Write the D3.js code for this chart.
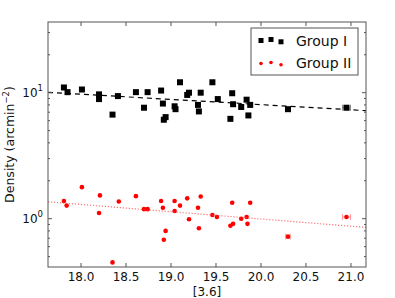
<!DOCTYPE html>
<html>
<head>
<meta charset="utf-8">
<script src="https://cdn.jsdelivr.net/npm/d3@7"></script>
<style>
  body { margin: 0; background: #fff; }
  text { font-family: "DejaVu Sans", sans-serif; fill: #111; }
</style>
</head>
<body>
<svg id="chart"></svg>
<script>
// values
const magOne = [17.81, 17.85, 18.01, 18.20, 18.20, 18.35, 18.41, 18.61, 18.70, 18.74, 18.89,
    18.91, 18.92, 18.94, 19.04, 19.05, 19.10, 19.18, 19.20, 19.30, 19.31, 19.33, 19.46,
    19.52, 19.66, 19.68, 19.69, 19.78, 19.84, 19.86, 19.88, 20.30, 20.95]
const densityOne = [11.0, 10.1, 10.6, 9.7, 8.9, 6.7, 9.4, 10.1, 7.6, 10.1, 10.4,
    8.2, 6.1, 6.4, 7.8, 7.4, 12.1, 9.6, 10.0, 8.0, 7.1, 10.0, 12.1,
    8.9, 6.2, 9.9, 8.1, 7.7, 8.8, 6.6, 8.0, 7.4, 7.6]

const magTwo = [17.81, 17.84, 18.01, 18.21, 18.20, 18.35, 18.42, 18.61, 18.70, 18.74, 18.89,
    18.91, 18.94, 18.92, 19.04, 19.04, 19.10, 19.18, 19.20, 19.33, 19.30, 19.31, 19.46,
    19.51, 19.68, 19.69, 19.66, 19.78, 19.84, 19.85, 19.88, 20.30, 20.95]
const densityTwo = [1.38, 1.27, 1.78, 1.53, 1.11, 0.45, 1.37, 1.51, 1.19, 1.19, 1.38,
    1.22, 0.80, 0.68, 1.38, 1.15, 1.27, 1.45, 0.99, 1.50, 1.22, 0.84, 1.07,
    1.03, 1.34, 0.91, 0.88, 1.00, 1.03, 0.91, 1.34, 0.72, 1.03]

// horizontal error on [3.6], only the faint ones are visible
const magErr = [0, 0, 0, 0, 0, 0, 0, 0, 0, 0, 0, 0, 0, 0, 0, 0, 0, 0, 0, 0, 0, 0, 0,
    0, 0, 0, 0, 0, 0, 0, 0, 0.025, 0.045]

// log10(density) = intercept + slope * ([3.6] - 18)
const fitOne = { intercept: 0.988, slope: -0.0413 }
const fitTwo = { intercept: 0.113, slope: -0.0576 }

const xTicks = [18.0, 18.5, 19.0, 19.5, 20.0, 20.5, 21.0]
const yMajor = [1, 10]
const yMinor = [0.5, 0.6, 0.7, 0.8, 0.9, 2, 3, 4, 5, 6, 7, 8, 9, 20, 30]
const seriesNames = ["Group I", "Group II"]

const W = 395, H = 298
const margin = { top: 22, right: 29, bottom: 31, left: 48 }
const plotW = W - margin.left - margin.right
const plotH = H - margin.top - margin.bottom

const svg = d3.select("#chart").attr("width", W).attr("height", H)

const xScale = d3.scaleLinear()
    .domain([17.633, 21.167])
    .range([margin.left, margin.left + plotW])

const yScale = d3.scaleLog()
    .domain([0.4136, 36.4])
    .range([margin.top + plotH, margin.top])

const pts = (mags, dens) => mags.map((m, i) => ({ x: m, y: dens[i], e: magErr[i] }))
const dataOne = pts(magOne, densityOne)
const dataTwo = pts(magTwo, densityTwo)

svg.append("clipPath").attr("id", "plotclip")
    .append("rect")
    .attr("x", margin.left).attr("y", margin.top)
    .attr("width", plotW).attr("height", plotH)

const plot = svg.append("g").attr("clip-path", "url(#plotclip)")

// error bars
const drawErr = (data, color) => {
    const g = plot.append("g").style("stroke", color).style("stroke-width", 1)
    const withErr = data.filter(d => d.e > 0)
    g.selectAll("line.bar").data(withErr).enter().append("line")
        .attr("x1", d => xScale(d.x - d.e)).attr("x2", d => xScale(d.x + d.e))
        .attr("y1", d => yScale(d.y)).attr("y2", d => yScale(d.y))
    g.selectAll("line.capl").data(withErr).enter().append("line")
        .attr("x1", d => xScale(d.x - d.e)).attr("x2", d => xScale(d.x - d.e))
        .attr("y1", d => yScale(d.y) - 3).attr("y2", d => yScale(d.y) + 3)
    g.selectAll("line.capr").data(withErr).enter().append("line")
        .attr("x1", d => xScale(d.x + d.e)).attr("x2", d => xScale(d.x + d.e))
        .attr("y1", d => yScale(d.y) - 3).attr("y2", d => yScale(d.y) + 3)
}
drawErr(dataOne, "#888")
drawErr(dataTwo, "#f99")

plot.append("g")
    .selectAll("rect")
    .data(dataOne)
    .enter().append("rect")
    .attr("x", d => xScale(d.x) - 3)
    .attr("y", d => yScale(d.y) - 3)
    .attr("width", 6)
    .attr("height", 6)
    .style("fill", "#000")

plot.append("g")
    .selectAll("circle")
    .data(dataTwo)
    .enter().append("circle")
    .attr("cx", d => xScale(d.x))
    .attr("cy", d => yScale(d.y))
    .attr("r", 2.3)
    .style("fill", "#ff0000")

// fit lines
const fitLine = fit => d3.line()
    .x(d => xScale(d))
    .y(d => yScale(Math.pow(10, fit.intercept + fit.slope * (d - 18))))

plot.append("path")
    .attr("d", fitLine(fitOne)(xScale.domain()))
    .style("fill", "none")
    .style("stroke", "#000")
    .style("stroke-width", 1.2)
    .style("stroke-dasharray", "5,4")

plot.append("path")
    .attr("d", fitLine(fitTwo)(xScale.domain()))
    .style("fill", "none")
    .style("stroke", "#ff4444")
    .style("stroke-opacity", 0.75)
    .style("stroke-width", 1.2)
    .style("stroke-dasharray", "1.2,1.8")

// frame
svg.append("rect")
    .attr("x", margin.left).attr("y", margin.top)
    .attr("width", plotW).attr("height", plotH)
    .style("fill", "none").style("stroke", "#555").style("stroke-width", 1)

// ticks, pointing inwards on all four sides
const ticks = svg.append("g").style("stroke", "#555").style("stroke-width", 1)
const plotTop = margin.top, plotBottom = margin.top + plotH
const plotLeft = margin.left, plotRight = margin.left + plotW

xTicks.forEach(t => {
    ticks.append("line").attr("x1", xScale(t)).attr("x2", xScale(t)).attr("y1", plotBottom).attr("y2", plotBottom - 4)
    ticks.append("line").attr("x1", xScale(t)).attr("x2", xScale(t)).attr("y1", plotTop).attr("y2", plotTop + 4)
})
yMajor.forEach(t => {
    ticks.append("line").attr("y1", yScale(t)).attr("y2", yScale(t)).attr("x1", plotLeft).attr("x2", plotLeft + 4)
    ticks.append("line").attr("y1", yScale(t)).attr("y2", yScale(t)).attr("x1", plotRight).attr("x2", plotRight - 4)
})
yMinor.forEach(t => {
    ticks.append("line").attr("y1", yScale(t)).attr("y2", yScale(t)).attr("x1", plotLeft).attr("x2", plotLeft + 2)
    ticks.append("line").attr("y1", yScale(t)).attr("y2", yScale(t)).attr("x1", plotRight).attr("x2", plotRight - 2)
})

svg.append("g")
    .selectAll("text")
    .data(xTicks)
    .enter().append("text")
    .attr("x", d => xScale(d))
    .attr("y", plotBottom + 14)
    .attr("text-anchor", "middle")
    .style("font-size", "12px")
    .text(d => d.toFixed(1))

const yLabels = svg.append("g")
    .selectAll("text")
    .data(yMajor)
    .enter().append("text")
    .attr("x", plotLeft - 5)
    .attr("y", d => yScale(d) + 4)
    .attr("text-anchor", "end")
    .style("font-size", "12px")
yLabels.append("tspan").text("10")
yLabels.append("tspan")
    .attr("dy", -6)
    .style("font-size", "8.5px")
    .text(d => Math.round(Math.log10(d)))

svg.append("text")
    .attr("x", (plotLeft + plotRight) / 2)
    .attr("y", 296)
    .attr("text-anchor", "middle")
    .style("font-size", "12px")
    .text("[3.6]")

const yTitle = svg.append("text")
    .attr("transform", `translate(14, ${(plotTop + plotBottom) / 2}) rotate(-90)`)
    .attr("text-anchor", "middle")
    .style("font-size", "12.5px")
yTitle.append("tspan").text("Density (arcmin")
yTitle.append("tspan").attr("dy", -5).style("font-size", "8.5px").text("\u22122")
yTitle.append("tspan").attr("dy", 5).text(")")

// legend
const legend = svg.append("g")
legend.append("rect")
    .attr("x", 251).attr("y", 28)
    .attr("width", 107).attr("height", 47)
    .style("fill", "#fff").style("stroke", "#555").style("stroke-width", 1)

const legendOffsets = [-0.5, -1.5, 0.8]
seriesNames.forEach((name, i) => {
    const cy = 41 + i * 22
    const g = legend.append("g")
    legendOffsets.forEach((o, k) => {
        const cx = 261 + k * 10
        if (i === 0) {
            g.append("rect").attr("x", cx - 2.5).attr("y", cy + o - 2.5)
                .attr("width", 5).attr("height", 5).style("fill", "#000")
        } else {
            g.append("circle").attr("cx", cx).attr("cy", cy + o + 1).attr("r", 1.8)
                .style("fill", "#ff0000")
        }
    })
    g.append("text")
        .attr("x", 296)
        .attr("y", cy + 5)
        .style("font-size", "14px")
        .text(name)
})
</script>
</body>
</html>
